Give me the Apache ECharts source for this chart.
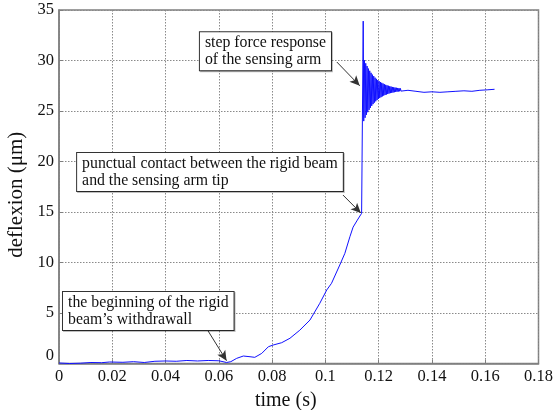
<!DOCTYPE html>
<html>
<head>
<meta charset="utf-8">
<script src="https://cdn.jsdelivr.net/npm/echarts@6/dist/echarts.min.js"></script>
<style>
  html, body { margin: 0; padding: 0; background: #fff; }
  #chart { width: 556px; height: 410px; }
</style>
</head>
<body>
<div id="chart"></div>
<script>
// time (s) and deflexion (um)
const baseTimes = [0, 0.004, 0.008, 0.012, 0.016, 0.019, 0.024, 0.028, 0.032, 0.036, 0.040, 0.044, 0.048, 0.052, 0.056, 0.060, 0.0629];
const baseValues = [0.05, 0.0, 0.03, 0.1, 0.08, 0.15, 0.12, 0.18, 0.1, 0.22, 0.25, 0.22, 0.3, 0.25, 0.3, 0.27, 0.1];

const riseTimes = [0.0645, 0.0667, 0.0692, 0.0717, 0.0735, 0.0761, 0.0786, 0.0804, 0.0836, 0.0867, 0.0904, 0.0942, 0.0979, 0.1005, 0.1023, 0.1054, 0.1073, 0.1092, 0.1104, 0.1120, 0.1136];
const riseValues = [0.18, 0.51, 0.74, 0.67, 0.61, 1.0, 1.66, 1.83, 2.06, 2.5, 3.3, 4.3, 5.96, 7.28, 7.94, 9.75, 10.9, 12.55, 13.5, 14.2, 14.87];

// step, overshoot and the ringing that dies out
const oscTimes = [0.1140, 0.1142,
  0.11440, 0.11465, 0.11490, 0.11515, 0.11540, 0.11565, 0.11590, 0.11615, 0.11640, 0.11665,
  0.11690, 0.11715, 0.11740, 0.11765, 0.11790, 0.11815, 0.11840, 0.11865, 0.11890, 0.11915,
  0.11940, 0.11965, 0.11990, 0.12015, 0.12040, 0.12065, 0.12090, 0.12115, 0.12140, 0.12165,
  0.12190, 0.12215, 0.12240, 0.12265, 0.12290, 0.12315, 0.12340, 0.12365, 0.12390, 0.12415,
  0.12440, 0.12465, 0.12490, 0.12515, 0.12540, 0.12565, 0.12590, 0.12615, 0.12640, 0.12665,
  0.12690, 0.12715, 0.12740, 0.12765, 0.12790, 0.12815, 0.12840];
const oscValues = [14.9, 33.9,
  24.00, 30.03, 24.33, 29.72, 24.62, 29.45, 24.88, 29.20, 25.11, 28.98,
  25.32, 28.78, 25.51, 28.60, 25.68, 28.45, 25.83, 28.30, 25.96, 28.18,
  26.08, 28.06, 26.19, 27.96, 26.28, 27.87, 26.37, 27.79, 26.45, 27.72,
  26.52, 27.65, 26.58, 27.59, 26.63, 27.54, 26.68, 27.50, 26.73, 27.45,
  26.77, 27.42, 26.80, 27.38, 26.83, 27.35, 26.86, 27.32, 26.89, 27.30,
  26.91, 27.28, 26.93, 27.26, 26.95, 27.24, 26.97];

const tailTimes = [0.131, 0.134, 0.137, 0.140, 0.143, 0.146, 0.149, 0.152, 0.155, 0.158, 0.161, 0.1635];
const tailValues = [27.05, 26.95, 26.85, 26.9, 26.85, 26.9, 26.95, 27.0, 26.95, 27.05, 27.1, 27.15];

const xTicks = [0, 0.02, 0.04, 0.06, 0.08, 0.1, 0.12, 0.14, 0.16, 0.18];
const yTicks = [0, 5, 10, 15, 20, 25, 30, 35];

const noteTexts = [
    'step force response\nof the sensing arm',
    'punctual contact between the rigid beam\nand the sensing arm tip',
    'the beginning of the rigid\nbeam\u2019s withdrawall'
];

// where the note boxes sit and where their arrows point (data coords)
const notePlaces = [
    { box: [0.0529, 32.8], from: [0.1043, 29.85], to: [0.1129, 27.5] },
    { box: [0.0068, 20.84], from: [0.1066, 16.68], to: [0.1133, 14.9] },
    { box: [0.0015, 7.08], from: [0.0555, 3.42], to: [0.0629, 0.28] }
];

const serif = '"Liberation Serif", "DejaVu Serif", serif';

const times = baseTimes.concat(riseTimes, oscTimes, tailTimes);
const values = baseValues.concat(riseValues, oscValues, tailValues);
const points = times.map((t, i) => [t, values[i]]);

const myChart = echarts.init(document.getElementById('chart'));

const option = {
    animation: false,
    backgroundColor: '#fff',
    grid: {
        left: 59,
        right: 17.5,
        top: 10,
        bottom: 46.5,
        outerBoundsMode: 'none',
        show: true,
        borderColor: '#7f7f7f',
        borderWidth: 1.5
    },
    xAxis: {
        type: 'value',
        min: xTicks[0],
        max: xTicks[xTicks.length - 1],
        interval: 0.02,
        name: 'time (s)',
        nameLocation: 'middle',
        nameGap: 25,
        // the title sits a little left of the plot centre in the original
        nameTextStyle: { fontFamily: serif, fontSize: 20, color: '#111', padding: [0, 26, 0, 0] },
        axisLine: { show: true, lineStyle: { color: '#7f7f7f', width: 1.5 } },
        axisTick: { show: true, inside: true, length: 4, lineStyle: { color: '#7f7f7f' } },
        axisLabel: {
            fontFamily: serif, fontSize: 16.5, color: '#111', margin: 5,
            formatter: v => String(+v.toFixed(2))
        },
        splitLine: { show: true, lineStyle: { color: '#8a8a8a', type: [1.5, 1.5], width: 1 } }
    },
    yAxis: {
        type: 'value',
        min: yTicks[0],
        max: yTicks[yTicks.length - 1],
        interval: 5,
        name: 'deflexion (\u03bcm)',
        nameLocation: 'middle',
        nameGap: 31,
        nameTextStyle: { fontFamily: serif, fontSize: 21, color: '#111', padding: [0, 16, 0, 0] },
        axisLine: { show: true, lineStyle: { color: '#7f7f7f', width: 1.5 } },
        axisTick: { show: true, inside: true, length: 4, lineStyle: { color: '#7f7f7f' } },
        axisLabel: {
            fontFamily: serif, fontSize: 16.5, color: '#111', margin: 5,
            formatter: v => v === 0 ? '{lift|0}' : String(v),
            rich: { lift: { fontFamily: serif, fontSize: 16.5, color: '#111', padding: [0, 0, 15, 0] } }
        },
        splitLine: { show: true, lineStyle: { color: '#8a8a8a', type: [1.5, 1.5], width: 1 } }
    },
    series: [{
        type: 'line',
        data: points,
        showSymbol: false,
        symbol: 'none',
        lineStyle: { color: '#1010ff', width: 1 },
        z: 3,
        markLine: {
            silent: true,
            symbol: ['none', 'arrow'],
            symbolSize: [7, 10],
            lineStyle: { color: '#333', width: 1, type: 'solid' },
            label: { show: false },
            data: notePlaces.map(p => [{ coord: p.from }, { coord: p.to }]),
            z: 5
        },
        markPoint: {
            silent: true,
            symbol: 'circle',
            symbolSize: 0,
            data: notePlaces.map((p, i) => ({
                coord: p.box,
                label: {
                    show: true,
                    position: [0, 0],
                    align: 'left',
                    verticalAlign: 'top',
                    formatter: noteTexts[i],
                    fontFamily: serif,
                    fontSize: 15.8,
                    lineHeight: 17,
                    color: '#111',
                    backgroundColor: '#fff',
                    borderColor: '#333',
                    borderWidth: 1,
                    padding: [2, 5, 2, 5],
                    shadowColor: 'rgba(0,0,0,0.25)',
                    shadowOffsetX: 1,
                    shadowOffsetY: 1
                }
            })),
            z: 6
        }
    }]
};

myChart.setOption(option, true);
window.addEventListener('resize', () => {
    myChart.resize();
});
</script>
</body>
</html>
